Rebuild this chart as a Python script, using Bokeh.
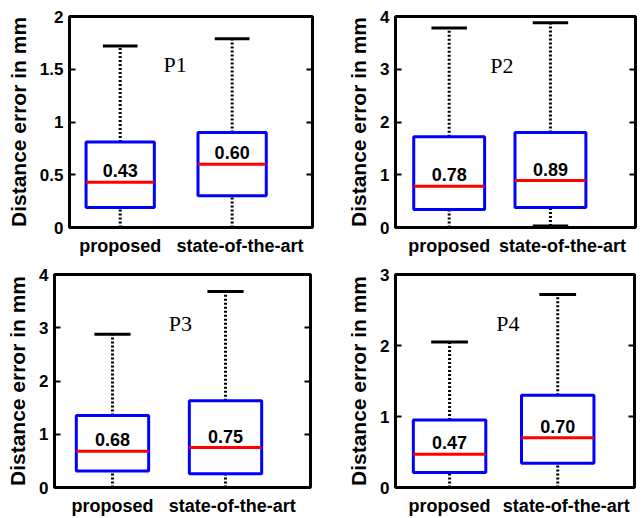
from bokeh.plotting import figure
from bokeh.models import ColumnDataSource, LinearAxis, FixedTicker, Label, Range1d, CustomLabelingPolicy
from bokeh.layouts import column, row
from bokeh.embed import file_html
from bokeh.resources import INLINE
from bokeh.core.properties import value

categories = ["proposed", "state-of-the-art"]

p1_max = [1.72, 1.79]
p1_q3 = [0.81, 0.90]
p1_med = [0.43, 0.60]
p1_q1 = [0.19, 0.30]
p1_min = [0.0, 0.0]
p1_ticks = [0, 0.5, 1, 1.5, 2]
p1_tick_labels = ["0", "0.5", "1", "1.5", "2"]

p2_max = [3.78, 3.88]
p2_q3 = [1.72, 1.80]
p2_med = [0.78, 0.89]
p2_q1 = [0.34, 0.38]
p2_min = [0.0, 0.03]
p2_ticks = [0, 1, 2, 3, 4]
p2_tick_labels = ["0", "1", "2", "3", "4"]

p3_max = [2.88, 3.68]
p3_q3 = [1.35, 1.63]
p3_med = [0.68, 0.75]
p3_q1 = [0.31, 0.26]
p3_min = [0.0, 0.0]
p3_ticks = [0, 1, 2, 3, 4]
p3_tick_labels = ["0", "1", "2", "3", "4"]

p4_max = [2.05, 2.72]
p4_q3 = [0.95, 1.30]
p4_med = [0.47, 0.70]
p4_q1 = [0.21, 0.34]
p4_min = [0.0, 0.0]
p4_ticks = [0, 1, 2, 3]
p4_tick_labels = ["0", "1", "2", "3"]

panel_names = ["P1", "P2", "P3", "P4"]

SANS = "Liberation Sans"
SERIF = "Liberation Serif"


def make_panel(name, mx, q3, med, q1, mn, ticks, tick_labels, ymax,
               width, height, xr, bl, br, bt, bb, bw, cw, name_pos, label_shift):
    xs = [i + 1 for i in range(len(categories))]
    src = ColumnDataSource(dict(
        x=xs,
        left=[x - bw / 2 for x in xs],
        right=[x + bw / 2 for x in xs],
        cl=[x - cw / 2 for x in xs],
        cr=[x + cw / 2 for x in xs],
        mx=mx, q3=q3, med=med, q1=q1, mn=mn,
        lab=["%.2f" % m for m in med],
    ))
    p = figure(width=width, height=height, output_backend="svg",
               toolbar_location=None, x_range=Range1d(*xr),
               y_range=Range1d(0, ymax),
               min_border_left=bl, min_border_right=br,
               min_border_top=bt, min_border_bottom=bb)
    p.xgrid.visible = False
    p.ygrid.visible = False
    p.background_fill_color = "white"
    p.border_fill_color = "white"
    p.outline_line_color = "black"
    p.outline_line_width = 3
    p.outline_line_alpha = 1

    # whiskers
    p.segment(x0="x", y0="q3", x1="x", y1="mx", source=src, line_color="black",
              line_width=3, line_dash="2 2")
    p.segment(x0="x", y0="mn", x1="x", y1="q1", source=src, line_color="black",
              line_width=3, line_dash="2 2")
    # caps
    p.segment(x0="cl", y0="mx", x1="cr", y1="mx", source=src, line_color="black", line_width=3)
    p.segment(x0="cl", y0="mn", x1="cr", y1="mn", source=src, line_color="black", line_width=3)
    # boxes
    p.quad(left="left", right="right", bottom="q1", top="q3", source=src,
           fill_color=None, line_color="#0000FF", line_width=3)
    # medians
    p.segment(x0="left", y0="med", x1="right", y1="med", source=src,
              line_color="#FF0000", line_width=3)
    # median labels
    p.text(x="x", y="med", text="lab", source=src, text_align="center",
           text_baseline="bottom", y_offset=-5,
           text_font=value(SANS), text_font_style="bold",
           text_font_size="18px", text_color="black")

    p.add_layout(Label(x=name_pos[0], y=name_pos[1], text=name,
                       text_font=SERIF, text_font_size="22px",
                       text_align="center", text_color="black"))

    # x axis (category labels; the second one sits a little right of its box)
    lx = [xs[0], xs[1] + label_shift]
    xa = p.xaxis[0]
    xa.ticker = FixedTicker(ticks=lx)
    xa.major_label_overrides = {x: c for x, c in zip(lx, categories)}
    xa.major_tick_in = 0
    xa.major_tick_out = 0
    xa.minor_tick_line_color = None
    xa.axis_line_color = None
    xa.major_label_standoff = 8
    xa.major_label_text_font = SANS
    xa.major_label_text_font_style = "bold"
    xa.major_label_text_font_size = "18px"
    xa.major_label_text_color = "black"

    # y axis
    ya = p.yaxis[0]
    ya.ticker = FixedTicker(ticks=ticks)
    ya.major_label_overrides = {t: l for t, l in zip(ticks, tick_labels)}
    ya.major_tick_in = 6
    ya.major_tick_out = 0
    ya.major_tick_line_width = 2
    ya.major_tick_line_color = "black"
    ya.minor_tick_line_color = None
    ya.axis_line_color = None
    ya.major_label_standoff = 6
    ya.major_label_text_font = SANS
    ya.major_label_text_font_style = "bold"
    ya.major_label_text_font_size = "17px"
    ya.major_label_text_color = "black"
    ya.axis_label = "Distance error in mm"
    ya.axis_label_text_font = SANS
    ya.axis_label_text_font_style = "bold"
    ya.axis_label_text_font_size = "21px"
    ya.axis_label_text_color = "black"
    ya.axis_label_standoff = 7

    ra = LinearAxis(ticker=FixedTicker(ticks=ticks))
    ra.major_label_policy = CustomLabelingPolicy(
        code="for (const i of Array.from(indices)) { indices.unset(i) }\nreturn indices")
    ra.major_label_standoff = 0
    ra.major_tick_in = 6
    ra.major_tick_out = 0
    ra.major_tick_line_width = 2
    ra.minor_tick_line_color = None
    ra.axis_line_color = None
    p.add_layout(ra, "right")
    return p


p1 = make_panel(panel_names[0], p1_max, p1_q3, p1_med, p1_q1, p1_min, p1_ticks, p1_tick_labels, 2,
                330, 258, (0.547, 2.718), 69, 7, 16, 30, 0.61, 0.31, (1.49, 1.43), 0.07)
p2 = make_panel(panel_names[1], p2_max, p2_q3, p2_med, p2_q1, p2_min, p2_ticks, p2_tick_labels, 4,
                314, 258, (0.47, 2.84), 65, 7, 16, 30, 0.70, 0.35, (1.52, 2.84), 0.12)
p3 = make_panel(panel_names[2], p3_max, p3_q3, p3_med, p3_q1, p3_min, p3_ticks, p3_tick_labels, 4,
                330, 260, (0.487, 2.752), 54, 20, 16, 31, 0.64, 0.32, (1.6, 2.85), 0.06)
p4 = make_panel(panel_names[3], p4_max, p4_q3, p4_med, p4_q1, p4_min, p4_ticks, p4_tick_labels, 3,
                314, 260, (0.5, 2.71), 65, 10, 11, 27, 0.67, 0.34, (1.54, 2.14), 0.08)

layout = column(row(p1, p2), row(p3, p4))
open("out.html", "w").write(file_html(layout, INLINE))
